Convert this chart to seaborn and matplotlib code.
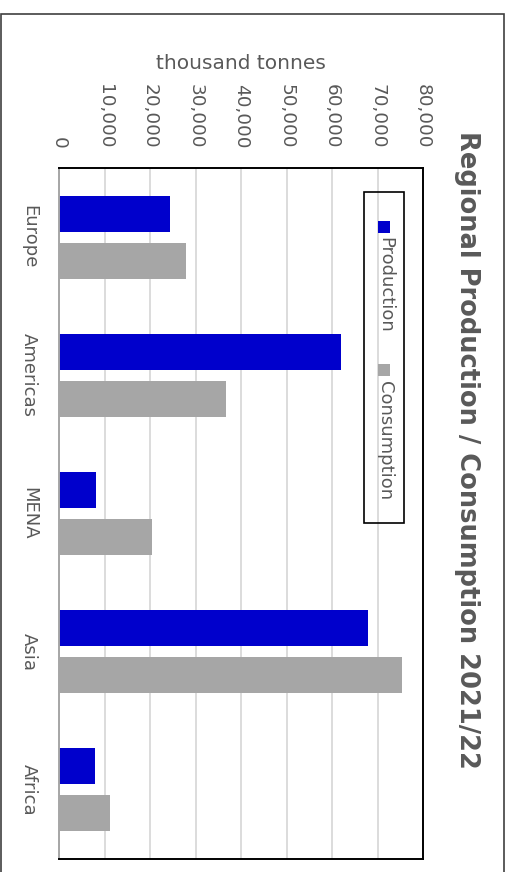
import matplotlib
matplotlib.use("Agg")
import matplotlib.pyplot as plt
import seaborn as sns
import pandas as pd
from matplotlib.patches import Rectangle
from matplotlib.ticker import FuncFormatter

regions = ["Europe", "Americas", "MENA", "Asia", "Africa"]
series_names = ["Production", "Consumption"]
production = [24400, 62000, 8100, 67900, 7900]
consumption = [27850, 36700, 20400, 75300, 11100]
value_ticks = [0, 10000, 20000, 30000, 40000, 50000, 60000, 70000, 80000]
title = "Regional Production / Consumption 2021/22"
axis_label = "thousand tonnes"
colors = ["#0000CC", "#A6A6A6"]

df = pd.DataFrame({
    "region": regions * 2,
    "series": [series_names[0]] * len(regions) + [series_names[1]] * len(regions),
    "value": production + consumption,
})

sns.set_theme(style="white")
plt.rcParams["font.family"] = ["DejaVu Sans"]
TXT = "#595959"

W, H = 509, 872
fig = plt.figure(figsize=(W / 100, H / 100), dpi=100)

def fx(px):
    return px / W

def fy(py):
    return 1 - py / H

left, right, top, bottom = 59, 423, 168, 859
ax = fig.add_axes([fx(left), fy(bottom), fx(right) - fx(left), fy(top) - fy(bottom)])

sns.barplot(data=df, y="region", x="value", hue="series", order=regions,
            hue_order=series_names, palette=dict(zip(series_names, colors)),
            orient="h", width=0.68, gap=0.235, linewidth=0, saturation=1,
            ax=ax, legend=False, errorbar=None)

ax.set_xlim(0, 80000)
ax.set_xticks(value_ticks)
ax.xaxis.set_major_formatter(FuncFormatter(lambda v, p: f"{int(v):,}"))
ax.xaxis.tick_top()
ax.xaxis.set_label_position("top")
ax.tick_params(axis="x", length=0, pad=14, labelsize=13.3, labelcolor=TXT,
               labelrotation=-90)
for t in ax.get_xticklabels():
    t.set_va("bottom")
    t.set_ha("center")
ax.set_xlabel(axis_label, fontsize=14.5, color=TXT, labelpad=11)
ax.set_ylabel("")
ax.tick_params(axis="y", length=0, pad=15, labelsize=13, labelcolor=TXT)
for t in ax.get_yticklabels():
    t.set_rotation(-90)
    t.set_va("center")
    t.set_ha("right")

ax.grid(axis="x", color="#D9D9D9", linewidth=1.3)
ax.grid(axis="y", visible=False)
ax.set_axisbelow(True)
for s in ["top", "right", "bottom"]:
    ax.spines[s].set_color("black")
    ax.spines[s].set_linewidth(1.4)
    ax.spines[s].set_visible(True)
ax.spines["left"].set_color("#A6A6A6")
ax.spines["left"].set_linewidth(1.4)
ax.spines["left"].set_visible(True)

# title
fig.text(fx(467), fy(450), title, rotation=-90, ha="center", va="center",
         fontsize=18.5, fontweight="bold", color=TXT)

# legend (rotated)
fig.patches.append(Rectangle((fx(364), fy(523)), fx(404) - fx(364), fy(192) - fy(523),
                             transform=fig.transFigure, fill=False,
                             edgecolor="black", linewidth=1.2))
leg_sq_y = [221, 364]
leg_txt_y = [237, 381]
for name, col, sy, ty in zip(series_names, colors, leg_sq_y, leg_txt_y):
    fig.patches.append(Rectangle((fx(378), fy(sy + 12)), fx(12), 12 / H,
                                 transform=fig.transFigure, facecolor=col,
                                 edgecolor="none"))
    fig.text(fx(385), fy(ty), name, rotation=-90, ha="center", va="top",
             fontsize=13, color=TXT)

# outer chart border
fig.patches.append(Rectangle((fx(1), fy(880)), fx(504) - fx(1), fy(14) - fy(880),
                             transform=fig.transFigure, fill=False,
                             edgecolor="#404040", linewidth=1.2, clip_on=False))

fig.savefig("out.png", dpi=100, facecolor="white")
